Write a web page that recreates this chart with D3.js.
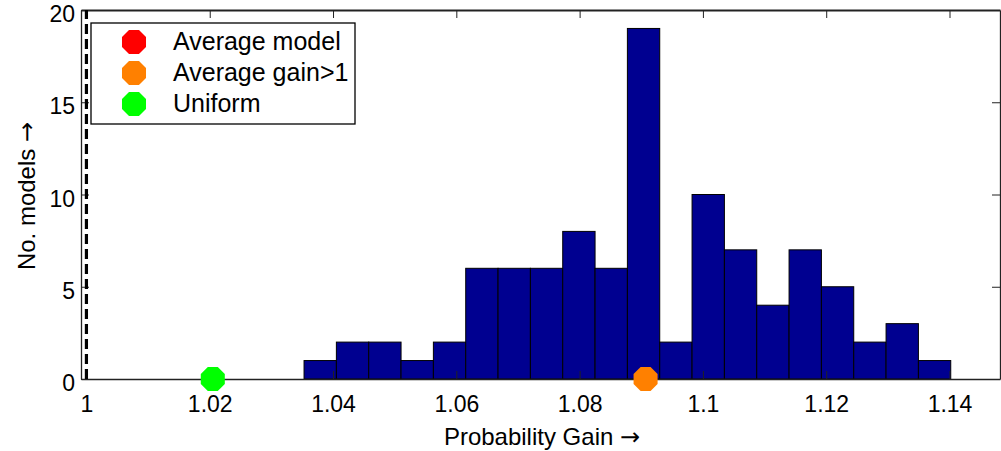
<!DOCTYPE html>
<html>
<head>
<meta charset="utf-8">
<script src="https://d3js.org/d3.v7.min.js"></script>
<style>
  body { margin: 0; background: #fff; }
  text { font-family: "Liberation Sans", Arial, sans-serif; fill: #000; }
</style>
</head>
<body>
<div id="chart"></div>
<script>
// data
var binMin = 1.0353,
    binMax = 1.1402;
var counts = [1, 2, 2, 1, 2, 6, 6, 6, 8, 6, 19, 2, 10, 7, 4, 7, 5, 2, 3, 1];
var xTicks = [1, 1.02, 1.04, 1.06, 1.08, 1.1, 1.12, 1.14];
var yTicks = [0, 5, 10, 15, 20];
var legendNames = ['Average model', 'Average gain>1', 'Uniform'];
var legendColors = ['#ff0000', '#ff8000', '#00ff00'];
var pointNames = ['Average gain>1', 'Uniform'];
var pointValues = [1.0907, 1.0205];
var refLine = 1;

var svgWidth = 1001,
    svgHeight = 451;

var margin = { top: 10, right: 1, bottom: 72, left: 81 };
var width = svgWidth - margin.left - margin.right,
    height = svgHeight - margin.top - margin.bottom;

var svg = d3.select('#chart').append('svg')
    .attr('width', svgWidth)
    .attr('height', svgHeight);

var g = svg.append('g')
    .attr('transform', `translate(${margin.left},${margin.top})`);

var xScale = d3.scaleLinear().domain([0.99912, 1.14819]).range([0, width]);
var yScale = d3.scaleLinear().domain([0, 20]).range([height, 0]);

// histogram bins (equal width between first and last edge)
var binW = (binMax - binMin) / counts.length;
var bins = counts.map((c, i) => ({ x0: binMin + i * binW, x1: binMin + (i + 1) * binW, n: c }));

g.selectAll('rect.bar')
    .data(bins)
    .enter()
    .append('rect')
    .attr('class', 'bar')
    .attr('x', d => xScale(d.x0))
    .attr('width', d => xScale(d.x1) - xScale(d.x0))
    .attr('y', d => yScale(d.n))
    .attr('height', d => yScale(0) - yScale(d.n))
    .attr('fill', '#000090')
    .attr('stroke', '#000')
    .attr('stroke-width', 1);

// axes: ticks inward on all four sides
var tickLen = 8;
var xBottom = g.append('g')
    .attr('transform', `translate(0,${height})`)
    .call(d3.axisBottom(xScale).tickValues(xTicks).tickSizeInner(-tickLen).tickSizeOuter(0).tickPadding(17).tickFormat(d3.format('')));
var xTop = g.append('g')
    .call(d3.axisTop(xScale).tickValues(xTicks).tickSizeInner(-tickLen).tickSizeOuter(0).tickFormat(''));
var yLeft = g.append('g')
    .call(d3.axisLeft(yScale).tickValues(yTicks).tickSizeInner(-tickLen).tickSizeOuter(0).tickPadding(6));
var yRight = g.append('g')
    .attr('transform', `translate(${width},0)`)
    .call(d3.axisRight(yScale).tickValues(yTicks).tickSizeInner(-tickLen).tickSizeOuter(0).tickFormat(''));

[xBottom, xTop, yLeft, yRight].forEach(a => {
    a.select('.domain').attr('stroke', '#222').attr('stroke-width', 1.3);
    a.selectAll('.tick line').attr('stroke', '#222');
    a.selectAll('.tick text').style('font-size', '23px').attr('fill', '#000');
});
xTop.select('.domain').attr('stroke-width', 2);
yLeft.selectAll('.tick text').attr('dy', '0.5em');

// dashed reference line at gain = 1
g.append('line')
    .attr('x1', xScale(refLine)).attr('x2', xScale(refLine))
    .attr('y1', yScale(0)).attr('y2', 0)
    .attr('stroke', '#000')
    .attr('stroke-width', 3.2)
    .attr('stroke-dasharray', '10,5');

// octagon marker path
var octagon = r => {
    var pts = d3.range(8).map(i => {
        var a = Math.PI / 8 + i * Math.PI / 4;
        return [r * Math.cos(a), r * Math.sin(a)];
    });
    return 'M' + pts.map(p => p.join(',')).join('L') + 'Z';
};

g.selectAll('path.pt')
    .data(pointValues)
    .enter()
    .append('path')
    .attr('class', 'pt')
    .attr('d', octagon(13))
    .attr('transform', d => `translate(${xScale(d)},${yScale(0)})`)
    .attr('fill', (d, i) => legendColors[legendNames.indexOf(pointNames[i])]);

// axis labels
var xLab = svg.append('text')
    .attr('x', 542)
    .attr('y', 445)
    .attr('text-anchor', 'middle')
    .style('font-size', '24px');
xLab.append('tspan').text('Probability Gain ');
xLab.append('tspan').style('font-family', 'DejaVu Sans').text('\u2192');

var yLab = svg.append('text')
    .attr('transform', `translate(35,${196})rotate(-90)`)
    .attr('text-anchor', 'middle')
    .style('font-size', '24px');
yLab.append('tspan').text('No. models ');
yLab.append('tspan').style('font-family', 'DejaVu Sans').text('\u2192');

// legend
var legend = svg.append('g').attr('transform', 'translate(91,23)');
legend.append('rect')
    .attr('width', 264)
    .attr('height', 101)
    .attr('fill', '#fff')
    .attr('stroke', '#000')
    .attr('stroke-width', 1.3);

var items = legend.selectAll('g.item')
    .data(legendNames)
    .enter()
    .append('g')
    .attr('class', 'item')
    .attr('transform', (d, i) => `translate(0,${19 + i * 31})`);

items.append('path')
    .attr('d', octagon(13))
    .attr('transform', 'translate(43,0)')
    .attr('fill', (d, i) => legendColors[i]);

items.append('text')
    .attr('x', 82)
    .attr('y', 8)
    .style('font-size', '25px')
    .text(d => d);
</script>
</body>
</html>
